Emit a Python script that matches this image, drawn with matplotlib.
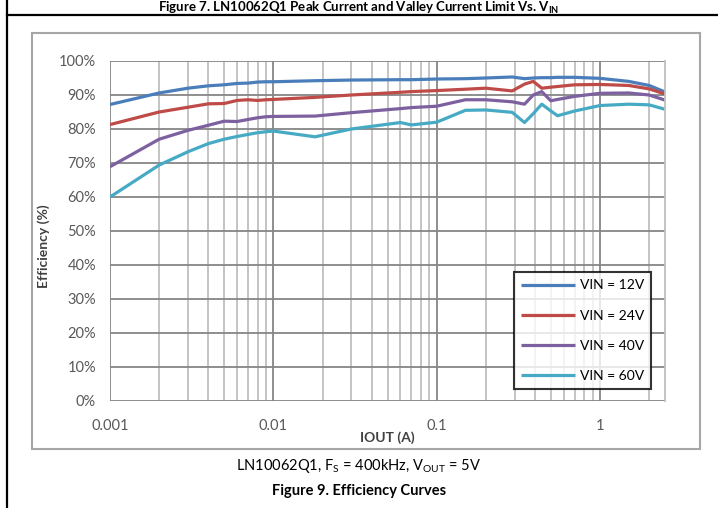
import numpy as np
import matplotlib.pyplot as plt
from matplotlib.patches import Rectangle
from matplotlib.lines import Line2D
from matplotlib.ticker import PercentFormatter, FixedLocator, FuncFormatter

plt.rcParams['font.family'] = ['Lato', 'DejaVu Sans']
plt.rcParams['mathtext.fontset'] = 'custom'
plt.rcParams['mathtext.rm'] = 'Lato'
plt.rcParams['mathtext.bf'] = 'Lato:bold'

# output current (A), shared by all curves
iout = [0.001, 0.002, 0.003, 0.004, 0.005, 0.006, 0.007, 0.008, 0.009, 0.01,
        0.018, 0.03, 0.06, 0.07, 0.1, 0.15, 0.2, 0.29, 0.345, 0.39, 0.44,
        0.5, 0.55, 0.7, 1.0, 1.5, 2.0, 2.5]

# efficiency (%) per input voltage
eff_12v = [87.2, 90.6, 92.0, 92.7, 93.0, 93.4, 93.5, 93.8, 93.9, 93.9,
           94.2, 94.4, 94.5, 94.5, 94.7, 94.8, 95.0, 95.3, 94.8, 95.0, 95.1,
           95.1, 95.2, 95.2, 94.9, 94.0, 92.8, 90.9]
eff_24v = [81.3, 85.0, 86.4, 87.4, 87.5, 88.4, 88.6, 88.4, 88.6, 88.7,
           89.3, 90.0, 90.8, 91.0, 91.3, 91.7, 92.0, 91.2, 93.2, 94.0, 92.0,
           92.3, 92.5, 93.0, 93.1, 92.8, 91.8, 90.3]
eff_40v = [68.9, 77.0, 79.6, 81.1, 82.3, 82.2, 82.8, 83.3, 83.6, 83.7,
           83.8, 84.8, 86.0, 86.3, 86.7, 88.6, 88.6, 88.0, 87.3, 90.0, 91.0,
           88.3, 88.7, 89.6, 90.5, 90.6, 90.0, 88.5]
eff_60v = [60.0, 69.4, 73.3, 75.7, 77.0, 77.8, 78.4, 78.9, 79.2, 79.4,
           77.7, 80.0, 81.9, 81.2, 82.0, 85.5, 85.6, 84.9, 81.9, 84.5, 87.3,
           85.3, 83.9, 85.3, 86.9, 87.3, 87.1, 85.8]

labels = ['VIN = 12V', 'VIN = 24V', 'VIN = 40V', 'VIN = 60V']
colors = ['#4A7EBB', '#BE4B48', '#7D60A0', '#46AAC5']

fig = plt.figure(figsize=(7.18, 5.08), dpi=100)
W, H = 718, 508

# page frame lines and chart border
fig.add_artist(Line2D([7 / W, 7 / W], [0, 1], color='black', lw=1.6))
fig.add_artist(Line2D([7 / W, 1], [1 - 15 / H, 1 - 15 / H], color='black', lw=1.6))
fig.add_artist(Rectangle((32 / W, 1 - 449 / H), 668 / W, 416 / H, fill=False,
                         edgecolor='#A6A6A6', lw=1.5, transform=fig.transFigure))

ax = fig.add_axes([110 / W, 1 - 401 / H, 555 / W, 340 / H])
for y, lab, c in zip([eff_12v, eff_24v, eff_40v, eff_60v], labels, colors):
    ax.plot(iout, y, color=c, lw=2.3, label=lab, solid_capstyle='butt')

ax.set_xscale('log')
ax.set_xlim(0.001, 2.5)
ax.set_ylim(0, 100)
ax.yaxis.set_major_locator(FixedLocator(np.arange(0, 101, 10)))
ax.yaxis.set_major_formatter(PercentFormatter(decimals=0))
ax.xaxis.set_major_locator(FixedLocator([0.001, 0.01, 0.1, 1]))
ax.xaxis.set_major_formatter(FuncFormatter(lambda v, p: '%g' % v))

ax.grid(True, which='major', color='#868686', lw=1.3)
ax.grid(True, which='minor', axis='x', color='#BFBFBF', lw=1.3)
ax.set_axisbelow(True)
for s in ['top', 'left', 'bottom']:
    ax.spines[s].set_visible(False)
ax.spines['right'].set_color('#BFBFBF')
ax.spines['right'].set_linewidth(1.3)
ax.tick_params(which='both', length=0, labelsize=10.5, colors='#595959')
ax.tick_params(axis='y', pad=10)
ax.tick_params(axis='x', pad=13)

ax.set_ylabel('Efficiency (%)', fontsize=10, fontweight='bold', color='#404040')
ax.yaxis.set_label_coords(-0.108, 0.456)
ax.set_xlabel('IOUT (A)', fontsize=10, fontweight='bold', color='#404040')
ax.xaxis.set_label_coords(0.499, -0.088)

leg = ax.legend(loc='lower right', bbox_to_anchor=(0.988, 0.014), fontsize=10,
                frameon=True, fancybox=False, handlelength=3.9, labelspacing=1.3,
                borderpad=0.55, handletextpad=0.3)
leg.get_frame().set_edgecolor('black')
leg.get_frame().set_linewidth(1.5)
for t in leg.get_texts():
    t.set_color('black')

fig.text(0.5, 1 - 11.5 / H, r'Figure 7. LN10062Q1 Peak Current and Valley Current Limit Vs. V$_\mathbf{IN}$',
         ha='center', va='baseline', fontsize=9.5, fontweight='bold')
fig.text(0.5, 1 - 466 / H, r'LN10062Q1, F$_\mathrm{S}$ = 400kHz, V$_\mathrm{OUT}$ = 5V',
         ha='center', va='center', fontsize=10.5)
fig.text(0.5, 1 - 491 / H, 'Figure 9. Efficiency Curves',
         ha='center', va='center', fontsize=10.5, fontweight='bold')

fig.savefig('out.png', dpi=100)
